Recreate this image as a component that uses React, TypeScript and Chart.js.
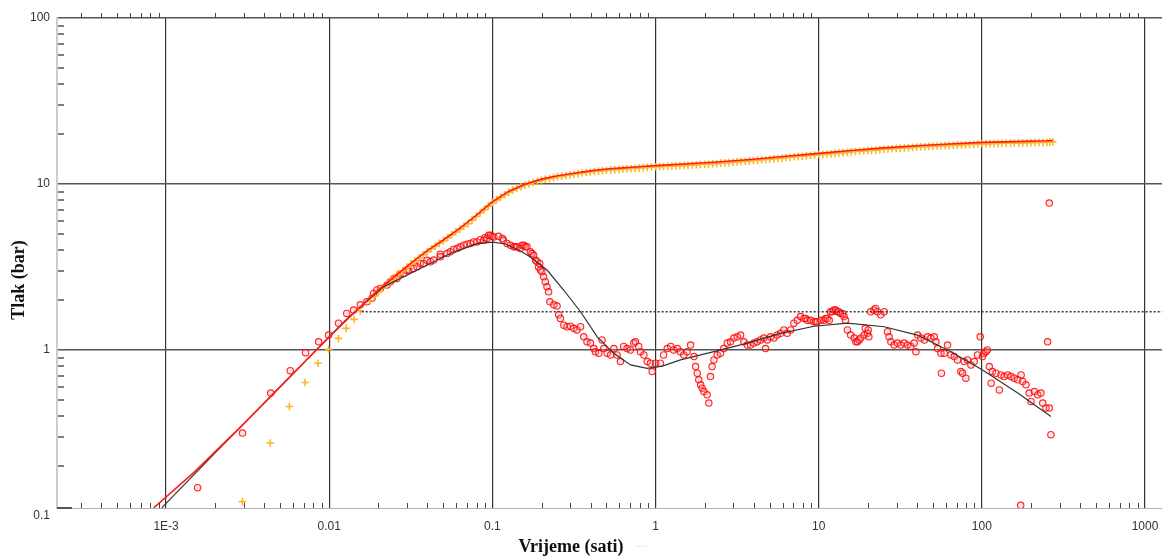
import React, { useEffect, useRef } from "react";
import { Chart, registerables } from "chart.js";

Chart.register(...registerables);

// ---- Derivative data (red circles) ----
const derivTime = [
  0.00156, 0.00294, 0.00438, 0.00577, 0.00716, 0.00861, 0.00991, 0.0114, 0.0128, 0.0141,
  0.0155, 0.017, 0.0183, 0.0187, 0.0196, 0.0206, 0.0226, 0.0237, 0.0248, 0.026,
  0.0272, 0.0286, 0.0299, 0.0307, 0.0329, 0.0345, 0.0361, 0.0379, 0.0397, 0.0417,
  0.0437, 0.0479, 0.048, 0.0527, 0.0552, 0.0578, 0.0607, 0.0635, 0.0667, 0.0698,
  0.0733, 0.0767, 0.0805, 0.0843, 0.0885, 0.09, 0.0927, 0.0949, 0.0973, 0.0995,
  0.102, 0.109, 0.115, 0.117, 0.123, 0.129, 0.135, 0.138, 0.142, 0.148,
  0.152, 0.156, 0.159, 0.163, 0.171, 0.175, 0.179, 0.184, 0.188, 0.192,
  0.195, 0.197, 0.201, 0.206, 0.211, 0.216, 0.221, 0.225, 0.238, 0.249,
  0.255, 0.261, 0.274, 0.287, 0.301, 0.315, 0.33, 0.347, 0.363, 0.38,
  0.399, 0.418, 0.428, 0.449, 0.47, 0.482, 0.505, 0.53, 0.555, 0.581,
  0.609, 0.638, 0.669, 0.701, 0.736, 0.753, 0.789, 0.809, 0.848, 0.889,
  0.931, 0.953, 1.0, 1.07, 1.12, 1.18, 1.24, 1.29, 1.36, 1.42,
  1.49, 1.56, 1.64, 1.72, 1.76, 1.8, 1.84, 1.89, 1.93, 1.98,
  2.07, 2.12, 2.17, 2.22, 2.28, 2.39, 2.5, 2.62, 2.75, 2.88,
  3.02, 3.17, 3.32, 3.48, 3.65, 3.82, 4.01, 4.2, 4.4, 4.61,
  4.72, 4.84, 5.07, 5.32, 5.57, 5.84, 6.12, 6.41, 6.73, 7.05,
  7.39, 7.74, 8.12, 8.33, 8.51, 8.93, 9.35, 9.59, 9.8, 10.3,
  10.8, 11.0, 11.3, 11.6, 11.8, 12.1, 12.4, 12.7, 13.0, 13.3,
  13.6, 14.0, 14.3, 14.6, 15.0, 15.7, 16.5, 16.9, 17.3, 17.7,
  18.1, 19.0, 19.3, 19.9, 20.1, 20.3, 20.8, 21.8, 22.3, 22.9,
  24.0, 25.2, 26.4, 27.0, 27.7, 29.0, 30.4, 31.9, 33.4, 35.0,
  36.7, 38.5, 39.4, 40.4, 42.3, 44.4, 46.5, 48.7, 51.1, 52.3,
  53.5, 56.1, 56.5, 58.8, 61.6, 64.6, 67.7, 71.0, 74.4, 76.2,
  78.0, 79.8, 81.7, 85.7, 89.8, 94.1, 97.7, 101, 103, 106,
  108, 111, 114, 116, 122, 128, 131, 137, 144, 151,
  158, 166, 173, 174, 178, 186, 195, 200, 210, 220,
  230, 236, 247, 253, 259, 259, 265,
];
const derivValue = [
  0.148, 0.316, 0.55, 0.751, 0.964, 1.12, 1.23, 1.45, 1.66, 1.74,
  1.87, 1.95, 2.05, 2.19, 2.3, 2.35, 2.46, 2.58, 2.69, 2.7,
  2.88, 2.89, 3.02, 3.03, 3.1, 3.17, 3.32, 3.32, 3.47, 3.4,
  3.48, 3.77, 3.64, 3.81, 3.9, 4.03, 4.08, 4.18, 4.28, 4.34,
  4.38, 4.48, 4.48, 4.62, 4.58, 4.75, 4.69, 4.91, 4.91, 4.85,
  4.8, 4.84, 4.69, 4.58, 4.38, 4.28, 4.18, 4.18, 4.18, 4.08,
  4.28, 4.28, 4.18, 4.18, 3.9, 3.81, 3.72, 3.47, 3.4, 3.16,
  3.32, 3.03, 2.96, 2.76, 2.58, 2.4, 2.24, 1.95, 1.87, 1.84,
  1.63, 1.55, 1.41, 1.38, 1.39, 1.35, 1.32, 1.38, 1.2, 1.12,
  1.1, 1.02, 0.977, 0.955, 1.15, 1.02, 0.955, 0.933, 1.02, 0.933,
  0.851, 1.05, 1.02, 1.0, 1.1, 1.12, 1.05, 0.977, 0.933, 0.851,
  0.832, 0.741, 0.832, 0.832, 0.933, 1.02, 1.05, 1.0, 1.02, 0.977,
  0.933, 0.977, 1.07, 0.912, 0.794, 0.724, 0.661, 0.617, 0.589, 0.562,
  0.537, 0.479, 0.692, 0.794, 0.871, 0.933, 0.955, 1.02, 1.1, 1.12,
  1.18, 1.2, 1.23, 1.12, 1.07, 1.07, 1.1, 1.12, 1.15, 1.18,
  1.02, 1.15, 1.2, 1.18, 1.23, 1.26, 1.32, 1.26, 1.32, 1.45,
  1.51, 1.59, 1.55, 1.55, 1.51, 1.51, 1.48, 1.48, 1.48, 1.51,
  1.51, 1.55, 1.55, 1.51, 1.7, 1.7, 1.74, 1.74, 1.7, 1.7,
  1.66, 1.66, 1.59, 1.51, 1.32, 1.23, 1.18, 1.12, 1.12, 1.15,
  1.18, 1.23, 1.35, 1.26, 1.32, 1.2, 1.7, 1.74, 1.78, 1.7,
  1.63, 1.7, 1.29, 1.2, 1.12, 1.07, 1.1, 1.07, 1.1, 1.07,
  1.05, 1.1, 0.977, 1.23, 1.18, 1.15, 1.2, 1.18, 1.2, 1.12,
  1.02, 0.955, 0.724, 0.955, 1.07, 0.933, 0.912, 0.871, 0.741, 0.724,
  0.851, 0.676, 0.871, 0.813, 0.851, 0.933, 1.2, 0.912, 0.955, 0.977,
  1.0, 0.794, 0.631, 0.741, 0.724, 0.575, 0.708, 0.692, 0.708, 0.692,
  0.676, 0.661, 0.116, 0.708, 0.646, 0.617, 0.55, 0.49, 0.562, 0.537,
  0.55, 0.479, 0.447, 1.12, 0.447, 7.67, 0.309,
];

// ---- Derivative model (black line) ----
const derivModelTime = [
  0.00094, 0.002, 0.005, 0.01, 0.0148, 0.0215, 0.0314, 0.0552, 0.0805, 0.101,
  0.12, 0.145, 0.171, 0.217, 0.274, 0.347, 0.439, 0.555, 0.703, 0.889,
  1.1, 1.42, 2.28, 3.66, 5.85, 9.36, 15.0, 25.2, 40.3, 64.6,
  101, 166, 265,
];
const derivModelValue = [
  0.112, 0.24, 0.6, 1.2, 1.74, 2.4, 2.89, 3.81, 4.37, 4.47,
  4.35, 4.0, 3.63, 3.02, 2.29, 1.7, 1.2, 0.955, 0.813, 0.776,
  0.8, 0.871, 0.977, 1.1, 1.26, 1.39, 1.45, 1.38, 1.23, 0.977,
  0.758, 0.55, 0.398,
];

// ---- Pressure model (red line) ----
const pressureModelTime = [
  0.00084, 0.0015, 0.003, 0.006, 0.01, 0.0125, 0.0158, 0.02, 0.0251, 0.0316,
  0.0398, 0.0501, 0.0631, 0.0794, 0.1, 0.126, 0.158, 0.2, 0.251, 0.316,
  0.398, 0.501, 0.631, 0.794, 1, 1.58, 2.51, 3.98, 6.31, 10,
  15.8, 25.1, 39.8, 63.1, 100, 158, 251, 272,
];
const pressureModelValue = [
  0.112, 0.185, 0.36, 0.72, 1.2, 1.5, 1.85, 2.3, 2.77, 3.33,
  3.95, 4.6, 5.4, 6.44, 7.8, 9.02, 9.96, 10.7, 11.2, 11.6,
  12.0, 12.3, 12.5, 12.7, 12.9, 13.24, 13.6, 14.1, 14.7, 15.3,
  15.9, 16.5, 17.0, 17.4, 17.8, 18.0, 18.2, 18.3,
];

// ---- Pressure data (orange crosses) ----
const pressureTime = [
  0.00294, 0.00435, 0.0057, 0.00711, 0.00853, 0.0099, 0.0114, 0.0127, 0.0142, 0.0155,
  0.0178, 0.02, 0.0224, 0.0251, 0.0282, 0.0316, 0.0355, 0.0398, 0.0447, 0.0501,
  0.0562, 0.0631, 0.0708, 0.0794, 0.0891, 0.1, 0.112, 0.126, 0.141, 0.158,
  0.178, 0.2, 0.224, 0.251, 0.282, 0.316, 0.355, 0.398, 0.447, 0.501,
  0.562, 0.631, 0.708, 0.794, 0.891, 1, 1.12, 1.26, 1.41, 1.58,
  1.78, 2.0, 2.24, 2.51, 2.82, 3.16, 3.55, 3.98, 4.47, 5.01,
  5.62, 6.31, 7.08, 7.94, 8.91, 10, 11.2, 12.6, 14.1, 15.8,
  17.8, 20, 22.4, 25.1, 28.2, 31.6, 35.5, 39.8, 44.7, 50.1,
  56.2, 63.1, 70.8, 79.4, 89.1, 100, 112, 126, 141, 158,
  178, 200, 224, 251, 272,
];
const pressureValue = [
  0.122, 0.275, 0.457, 0.637, 0.832, 1.01, 1.175, 1.35, 1.53, 1.72,
  1.98, 2.24, 2.47, 2.73, 3.0, 3.29, 3.58, 3.91, 4.22, 4.55,
  4.94, 5.35, 5.77, 6.37, 7.01, 7.72, 8.31, 8.93, 9.42, 9.86,
  10.2, 10.55, 10.8, 11.05, 11.25, 11.45, 11.65, 11.8, 11.95, 12.1,
  12.2, 12.3, 12.4, 12.5, 12.6, 12.7, 12.75, 12.85, 12.9, 13.0,
  13.05, 13.15, 13.25, 13.35, 13.45, 13.6, 13.7, 13.85, 14.0, 14.1,
  14.25, 14.4, 14.6, 14.7, 14.9, 15.0, 15.15, 15.3, 15.45, 15.6,
  15.75, 15.9, 16.0, 16.2, 16.3, 16.45, 16.55, 16.7, 16.8, 16.9,
  17.0, 17.05, 17.15, 17.25, 17.35, 17.45, 17.5, 17.55, 17.6, 17.65,
  17.7, 17.75, 17.8, 17.85, 17.9,
];
// further crosses read in between (the band is dense)
const pressureTimeB = [
  0.0189, 0.0211, 0.0237, 0.0266, 0.0299, 0.0335, 0.0376, 0.0422, 0.0473, 0.0531,
  0.0596, 0.0668, 0.075, 0.0841, 0.0944, 0.106, 0.119, 0.133, 0.15, 0.168,
  0.189, 0.211, 0.237, 0.266, 0.299, 0.335, 0.376, 0.422, 0.473, 0.531,
  0.596, 0.668, 0.75, 0.841, 0.944, 1.06, 1.19, 1.33, 1.5, 1.68,
  1.88, 2.11, 2.37, 2.66, 2.99, 3.35, 3.76, 4.22, 4.73, 5.31,
  5.96, 6.68, 7.5, 8.41, 9.44, 10.6, 11.9, 13.3, 15.0, 16.8,
  18.9, 21.1, 23.7, 26.6, 29.9, 33.5, 37.6, 42.2, 47.3, 53.1,
  59.6, 66.8, 75.0, 84.1, 94.4, 106, 119, 133, 150, 168,
  189, 211, 237, 261,
];
const pressureValueB = [
  2.11, 2.36, 2.6, 2.87, 3.15, 3.44, 3.75, 4.07, 4.39, 4.75,
  5.14, 5.56, 6.06, 6.69, 7.36, 8.02, 8.62, 9.18, 9.64, 10.03,
  10.38, 10.68, 10.93, 11.15, 11.35, 11.55, 11.72, 11.88, 12.02, 12.15,
  12.25, 12.35, 12.45, 12.55, 12.65, 12.72, 12.8, 12.88, 12.95, 13.02,
  13.1, 13.2, 13.3, 13.4, 13.52, 13.65, 13.78, 13.92, 14.05, 14.18,
  14.32, 14.5, 14.65, 14.8, 14.95, 15.08, 15.22, 15.38, 15.52, 15.68,
  15.82, 15.95, 16.1, 16.25, 16.38, 16.5, 16.62, 16.75, 16.85, 16.95,
  17.02, 17.1, 17.2, 17.3, 17.4, 17.48, 17.52, 17.58, 17.62, 17.68,
  17.72, 17.78, 17.82, 17.88,
];

// ---- Dotted horizontal reference line ----
const dottedTime = [0.0158, 2000];
const dottedValue = [1.7, 1.7];

// ---- Axes ----
const X_MIN = 0.0002145;
const X_MAX = 1271;
const Y_MIN = 0.1117;
const Y_MAX = 100;
const xDecades = [0.001, 0.01, 0.1, 1, 10, 100, 1000];
const xDecadeLabels = ["1E-3", "0.01", "0.1", "1", "10", "100", "1000"];
const yDecades = [0.1, 1, 10, 100];
const yDecadeLabels = ["0.1", "1", "10", "100"];
const minorFactors = [2, 3, 4, 5, 6, 7, 8, 9];

function pts(xs: number[], ys: number[]) {
  return xs.map((x, i) => ({ x, y: ys[i] }));
}

function labelFor(v: number, decs: number[], labels: string[]) {
  for (let i = 0; i < decs.length; i++) {
    if (Math.abs(Math.log10(v) - Math.log10(decs[i])) < 1e-6) return labels[i];
  }
  return "";
}

const axisDecor = {
  id: "axisDecor",
  afterDraw(chart: any) {
    const { ctx, chartArea: a, scales } = chart;
    const x = scales.x;
    const y = scales.y;
    ctx.save();
    ctx.strokeStyle = "#444";
    ctx.lineWidth = 1;
    for (let e = -4; e <= 3; e++) {
      for (const k of minorFactors) {
        const v = k * Math.pow(10, e);
        if (v < X_MIN || v > X_MAX) continue;
        const px = Math.round(x.getPixelForValue(v)) + 0.5;
        ctx.beginPath();
        ctx.moveTo(px, a.bottom);
        ctx.lineTo(px, a.bottom - 5);
        ctx.moveTo(px, a.top);
        ctx.lineTo(px, a.top - 5);
        ctx.stroke();
      }
    }
    ctx.lineWidth = 1.5;
    ctx.strokeStyle = "#555";
    for (let e = -1; e <= 1; e++) {
      for (const k of minorFactors) {
        const v = k * Math.pow(10, e);
        if (v < Y_MIN || v > Y_MAX) continue;
        const py = Math.round(y.getPixelForValue(v));
        ctx.beginPath();
        ctx.moveTo(a.left + 1, py);
        ctx.lineTo(a.left + 7, py);
        ctx.stroke();
      }
    }
    ctx.lineWidth = 2;
    ctx.beginPath();
    ctx.moveTo(a.left, a.bottom);
    ctx.lineTo(a.left + 15, a.bottom);
    ctx.stroke();
    ctx.fillStyle = "#111";
    ctx.font = 'bold 18px "Liberation Serif", serif';
    ctx.textAlign = "center";
    ctx.textBaseline = "middle";
    ctx.fillText("Vrijeme (sati)", 571, 547);
    ctx.save();
    ctx.translate(19, 280);
    ctx.rotate(-Math.PI / 2);
    ctx.fillText("Tlak (bar)", 0, 0);
    ctx.restore();
    ctx.fillStyle = "#d4d4d4";
    ctx.font = '10px "Liberation Sans", sans-serif';
    ctx.fillText(".....", 642, 544);
    ctx.restore();
  },
};

export default function App() {
  const ref = useRef<HTMLCanvasElement | null>(null);
  useEffect(() => {
    document.body.style.margin = "0";
    const canvas = ref.current;
    if (!canvas) return;
    const chart = new Chart(canvas, {
      type: "scatter",
      data: {
        datasets: [
          {
            label: "Pressure model",
            data: pts(pressureModelTime, pressureModelValue),
            showLine: true,
            borderColor: "#ff1a1a",
            borderWidth: 1.6,
            pointRadius: 0,
            fill: false,
          },
          {
            label: "Derivative model",
            data: pts(derivModelTime, derivModelValue),
            showLine: true,
            borderColor: "#333333",
            borderWidth: 1.2,
            pointRadius: 0,
            fill: false,
          },
          {
            label: "Reference",
            data: pts(dottedTime, dottedValue),
            showLine: true,
            borderColor: "#333333",
            borderWidth: 1.4,
            borderDash: [2, 2],
            pointRadius: 0,
            fill: false,
          },
          {
            label: "Pressure",
            data: pts(pressureTime.concat(pressureTimeB), pressureValue.concat(pressureValueB)),
            pointStyle: "cross",
            pointRadius: 3.8,
            borderColor: "#ffb428",
            borderWidth: 1.6,
            showLine: false,
          },
          {
            label: "Derivative",
            data: pts(derivTime, derivValue),
            pointStyle: "circle",
            pointRadius: 3.2,
            borderColor: "rgba(255,0,0,0.85)",
            backgroundColor: "rgba(255,150,150,0.25)",
            borderWidth: 1.1,
            showLine: false,
          },
        ],
      },
      options: {
        responsive: false,
        animation: false,
        events: [],
        layout: { autoPadding: false, padding: { top: 18, left: 0, right: 0, bottom: 0 } },
        plugins: {
          legend: { display: false },
          tooltip: { enabled: false },
        },
        scales: {
          x: {
            type: "logarithmic",
            min: X_MIN,
            max: X_MAX,
            afterBuildTicks: (s: any) => {
              s.ticks = xDecades.filter((v) => v >= X_MIN && v <= X_MAX).map((v) => ({ value: v }));
            },
            afterFit: (s: any) => {
              s.height = 50;
              s.paddingLeft = 0;
              s.paddingRight = 0;
            },
            ticks: {
              autoSkip: false,
              maxRotation: 0,
              padding: 11,
              color: "#333",
              font: { family: "Liberation Sans", size: 12 },
              callback: (v: any) => labelFor(Number(v), xDecades, xDecadeLabels),
            },
            grid: {
              color: "#333",
              lineWidth: 1.2,
              drawTicks: false,
            },
            border: { display: true, color: "#b0b0b0", width: 1 },
          },
          y: {
            type: "logarithmic",
            min: Y_MIN,
            max: Y_MAX,
            afterBuildTicks: (s: any) => {
              s.ticks = yDecades.map((v) => ({ value: v }));
            },
            afterFit: (s: any) => {
              s.width = 57;
              s.paddingTop = 0;
              s.paddingBottom = 0;
            },
            ticks: {
              autoSkip: false,
              padding: 7,
              color: "#333",
              font: { family: "Liberation Sans", size: 12 },
              callback: (v: any) => labelFor(Number(v), yDecades, yDecadeLabels),
            },
            grid: {
              color: (c: any) => (c.tick && c.tick.value < Y_MIN ? "rgba(0,0,0,0)" : "#555"),
              lineWidth: 1.6,
              drawTicks: false,
            },
            border: { display: true, color: "#cccccc", width: 2 },
          },
        },
      },
      plugins: [axisDecor],
    } as any);
    return () => chart.destroy();
  }, []);
  return (
    <div style={{ position: "absolute", left: 0, top: 0, width: 1162, height: 558, background: "#fff" }}>
      <canvas ref={ref} width={1162} height={558} style={{ display: "block" }} />
    </div>
  );
}
